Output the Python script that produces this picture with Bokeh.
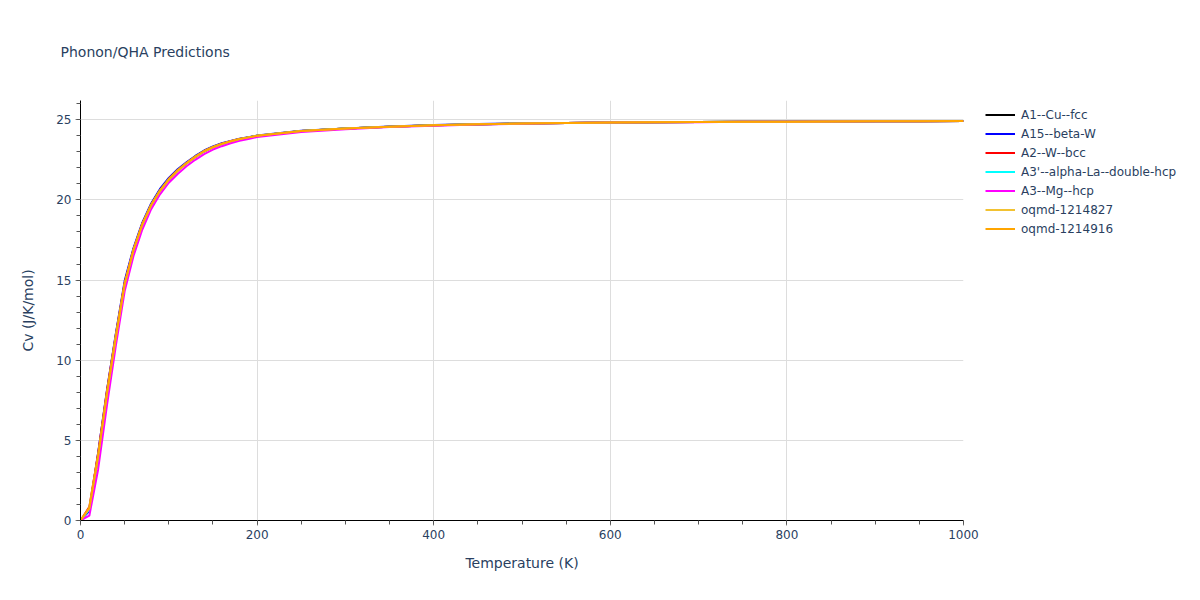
from bokeh.plotting import figure
from bokeh.models import Range1d, SingleIntervalTicker, Legend, LegendItem
from bokeh.embed import file_html
from bokeh.resources import INLINE

T = [0, 10, 20, 30, 40, 50, 60, 70, 80, 90, 100, 110, 120, 130, 140, 150, 160, 170,
     180, 190, 200, 250, 300, 350, 400, 450, 500, 550, 600, 650, 700, 750, 800, 850,
     900, 950, 1000]

cu_fcc = [0, 0.7, 3.95, 7.85, 11.45, 14.7, 16.85, 18.45, 19.65, 20.55, 21.25, 21.82, 22.27,
          22.67, 23.02, 23.28, 23.48, 23.65, 23.79, 23.89, 23.99, 24.29, 24.45, 24.56, 24.65,
          24.71, 24.76, 24.8, 24.82, 24.84, 24.86, 24.87, 24.88, 24.89, 24.9, 24.91, 24.92]
beta_w = [0, 0.6, 4.25, 8.15, 11.65, 14.95, 17.0, 18.58, 19.78, 20.68, 21.37, 21.91, 22.35,
          22.74, 23.08, 23.33, 23.53, 23.68, 23.81, 23.91, 24.01, 24.31, 24.46, 24.58, 24.67,
          24.73, 24.77, 24.8, 24.83, 24.85, 24.86, 24.87, 24.88, 24.89, 24.9, 24.91, 24.92]
w_bcc = [0, 0.85, 4.2, 8.1, 11.6, 14.8, 16.9, 18.5, 19.7, 20.6, 21.3, 21.85, 22.3, 22.7,
         23.04, 23.3, 23.5, 23.66, 23.8, 23.9, 24.0, 24.3, 24.45, 24.57, 24.66, 24.72,
         24.76, 24.8, 24.82, 24.84, 24.86, 24.87, 24.88, 24.89, 24.9, 24.91, 24.92]
la_dhcp = [0, 0.7, 4.0, 7.9, 11.5, 14.7, 16.85, 18.45, 19.68, 20.58, 21.28, 21.83, 22.28,
           22.68, 23.03, 23.29, 23.49, 23.65, 23.79, 23.9, 24.0, 24.3, 24.45, 24.57, 24.66,
           24.72, 24.76, 24.8, 24.82, 24.84, 24.86, 24.87, 24.88, 24.89, 24.9, 24.91, 24.92]
mg_hcp = [0, 0.3, 3.2, 7.2, 10.9, 14.3, 16.5, 18.15, 19.42, 20.35, 21.07, 21.62, 22.1,
          22.5, 22.85, 23.14, 23.35, 23.53, 23.68, 23.8, 23.92, 24.24, 24.41, 24.54, 24.63,
          24.7, 24.75, 24.79, 24.82, 24.84, 24.85, 24.87, 24.88, 24.89, 24.9, 24.91, 24.92]
oqmd_1214827 = [0, 0.75, 4.0, 7.9, 11.4, 14.7, 16.85, 18.45, 19.65, 20.55, 21.25, 21.8,
                22.27, 22.67, 23.02, 23.28, 23.48, 23.65, 23.79, 23.9, 24.0, 24.29, 24.45,
                24.56, 24.66, 24.72, 24.77, 24.8, 24.83, 24.85, 24.86, 24.87, 24.88, 24.89,
                24.9, 24.91, 24.92]
oqmd_1214916 = [0, 0.8, 4.1, 8.0, 11.5, 14.8, 16.9, 18.5, 19.7, 20.6, 21.3, 21.85, 22.3,
                22.7, 23.05, 23.3, 23.5, 23.66, 23.8, 23.9, 24.0, 24.3, 24.45, 24.57, 24.66,
                24.72, 24.76, 24.8, 24.82, 24.84, 24.86, 24.87, 24.88, 24.89, 24.9, 24.91,
                24.92]

names = ["A1--Cu--fcc", "A15--beta-W", "A2--W--bcc", "A3'--alpha-La--double-hcp",
         "A3--Mg--hcp", "oqmd-1214827", "oqmd-1214916"]
series = [cu_fcc, beta_w, w_bcc, la_dhcp, mg_hcp, oqmd_1214827, oqmd_1214916]
colors = ["black", "blue", "red", "cyan", "magenta", "#f2c232", "orange"]

FONT = "DejaVu Sans"
TXT = "#2a3f5f"

p = figure(frame_width=883, frame_height=420, output_backend="svg", toolbar_location=None,
           x_range=Range1d(0, 1000), y_range=Range1d(0, 26.2),
           min_border_left=80, min_border_top=100, min_border_bottom=72, min_border_right=221)
p.outline_line_color = None
p.background_fill_color = "white"

p.title.text = "Phonon/QHA Predictions"
p.title.align = "left"
p.title.offset = -20
p.title.text_font = FONT
p.title.text_font_size = "14px"
p.title.text_font_style = "normal"
p.title.text_color = TXT
p.title.standoff = 82

items = []
for name, ys, c in zip(names, series, colors):
    r = p.line(T, ys, line_color=c, line_width=2)
    items.append(LegendItem(label=name, renderers=[r]))

p.xaxis.ticker = SingleIntervalTicker(interval=200, num_minor_ticks=4)
p.yaxis.ticker = SingleIntervalTicker(interval=5, num_minor_ticks=5)
for ax in (p.xaxis, p.yaxis):
    ax.axis_line_color = "black"
    ax.axis_line_width = 1
    ax.major_tick_in = 0
    ax.major_tick_out = 5
    ax.minor_tick_in = 0
    ax.minor_tick_out = 4
    ax.major_tick_line_color = "#888888"
    ax.minor_tick_line_color = "#555555"
    ax.major_label_text_font = FONT
    ax.major_label_text_font_size = "12px"
    ax.major_label_text_color = TXT
    ax.axis_label_text_font = FONT
    ax.axis_label_text_font_size = "14px"
    ax.axis_label_text_color = TXT
    ax.axis_label_text_font_style = "normal"
p.xaxis.axis_label = "Temperature (K)"
p.yaxis.axis_label = "Cv (J/K/mol)"
p.xaxis.major_label_standoff = 4
p.yaxis.major_label_standoff = 4
p.xaxis.axis_label_standoff = 13
p.yaxis.axis_label_standoff = 17

p.xgrid.grid_line_color = "#dddddd"
p.ygrid.grid_line_color = "#dddddd"
p.xgrid.ticker = p.xaxis.ticker
p.ygrid.ticker = p.yaxis.ticker

legend = Legend(items=items, location=(22, 282), margin=0, padding=0,
                glyph_width=30, glyph_height=19, label_height=19, spacing=0,
                label_standoff=6, border_line_color=None, background_fill_alpha=0,
                label_text_font=FONT, label_text_font_size="12px", label_text_color=TXT)
p.add_layout(legend, "right")

open("out.html", "w").write(file_html(p, INLINE))
